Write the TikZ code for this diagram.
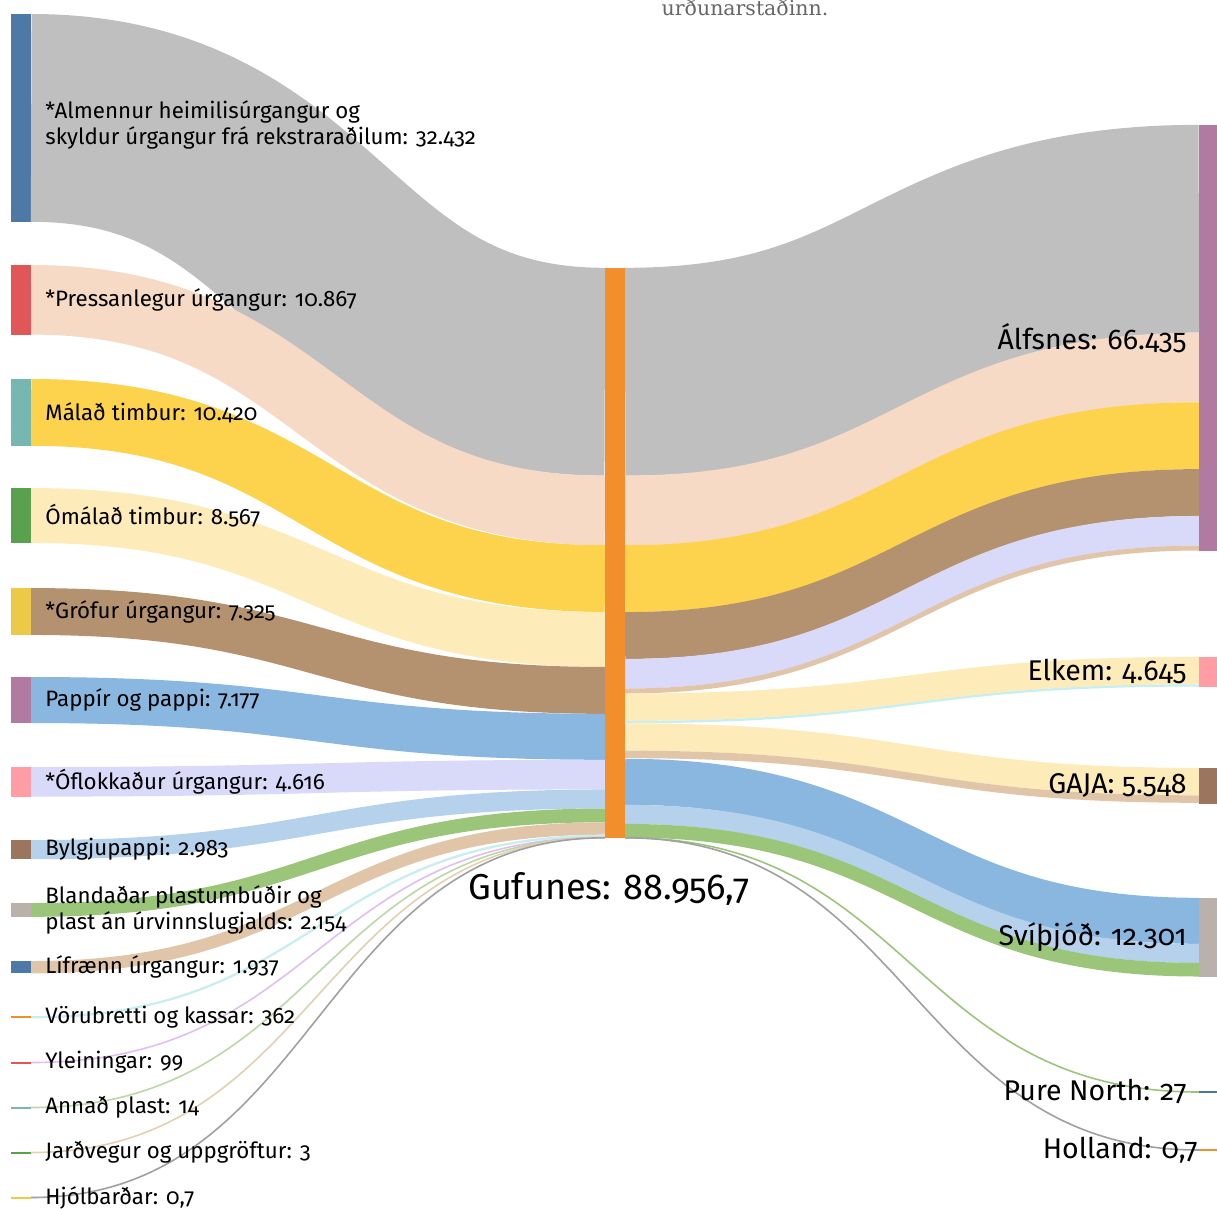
\documentclass[tikz,border=0pt]{standalone}
\usepackage{fontspec}
\setmainfont{Fira Sans}[Numbers=OldStyle]
\newfontfamily\noteserif{DejaVu Serif}
\usetikzlibrary{positioning}

% bar colours
\definecolor{tblue}{HTML}{4E79A7}
\definecolor{tred}{HTML}{E15759}
\definecolor{tteal}{HTML}{76B7B2}
\definecolor{tgreen}{HTML}{59A14F}
\definecolor{tyellow}{HTML}{EDC948}
\definecolor{tpurple}{HTML}{B07AA1}
\definecolor{tpink}{HTML}{FF9DA7}
\definecolor{tbrown}{HTML}{9C755F}
\definecolor{tgrey}{HTML}{BAB0AC}
\definecolor{torange}{HTML}{F28E2B}
% flow colours
\definecolor{lkGrey}{HTML}{BFBFBF}
\definecolor{lkPeach}{HTML}{F6DAC5}
\definecolor{lkGold}{HTML}{FDD24C}
\definecolor{lkCream}{HTML}{FDEBB9}
\definecolor{lkBrown}{HTML}{B5926F}
\definecolor{lkBlue}{HTML}{8AB7E0}
\definecolor{lkLav}{HTML}{D9D9F9}
\definecolor{lkSky}{HTML}{B6D1EC}
\definecolor{lkGreen}{HTML}{9BC67A}
\definecolor{lkTan}{HTML}{E1C5A8}
\definecolor{lkCyan}{HTML}{C9EEF0}
\definecolor{lkViolet}{HTML}{E2BEF2}
\definecolor{lkMint}{HTML}{BBD8A6}
\definecolor{lkSand}{HTML}{E2D0B0}
\definecolor{lkDark}{HTML}{A0A0A0}

\begin{document}
\begin{tikzpicture}[x=1pt, y=-1pt,
    bar/.style={rectangle, inner sep=0pt, minimum width=20pt},
    lbl/.style={font=\fontsize{22.3}{26}\selectfont, align=left, inner sep=0pt},
    big/.style={font=\fontsize{28.5}{32}\selectfont, inner sep=0pt},
    flow/.style={out=0, in=180, distance=287pt}]

    \useasboundingbox (0,0) rectangle (1217,1208);

    \node[font=\noteserif\fontsize{20.5}{24}\selectfont, text=black!60, anchor=base] (note) at (745,15) {urðunarstaðinn.};

    % sources
    \node[bar, fill=tblue, minimum height=207.8pt] (almennur) at (21,117.9) {};
    \node[bar, fill=tred, minimum height=69.6pt] (pressan) at (21,299.8) {};
    \node[bar, fill=tteal, minimum height=66.8pt] (malad) at (21,412.4) {};
    \node[bar, fill=tgreen, minimum height=54.9pt] (omalad) at (21,515.5) {};
    \node[bar, fill=tyellow, minimum height=46.9pt] (grofur) at (21,611.5) {};
    \node[bar, fill=tpurple, minimum height=46pt] (pappir) at (21,700) {};
    \node[bar, fill=tpink, minimum height=29.6pt] (oflokk) at (21,781.8) {};
    \node[bar, fill=tbrown, minimum height=19.1pt] (bylgju) at (21,849.6) {};
    \node[bar, fill=tgrey, minimum height=13.8pt] (blandad) at (21,909.9) {};
    \node[bar, fill=tblue, minimum height=12.4pt] (lifraenn) at (21,967.2) {};
    \node[bar, fill=torange, minimum height=2.3pt] (vorubr) at (21,1017.2) {};
    \node[bar, fill=tred, minimum height=2pt] (ylein) at (21,1062.5) {};
    \node[bar, fill=tteal, minimum height=2pt] (annad) at (21,1107.5) {};
    \node[bar, fill=tgreen, minimum height=2pt] (jardv) at (21,1152.5) {};
    \node[bar, fill=tyellow, minimum height=2pt] (hjolb) at (21,1197.5) {};

    % hub
    \node[bar, fill=torange, minimum height=570pt] (gufunes) at (615,553) {};

    % targets
    \node[bar, fill=tpurple, minimum height=425.7pt] (alfsnes) at (1209,337.9) {};
    \node[bar, fill=tpink, minimum height=29.8pt] (elkem) at (1209,671.9) {};
    \node[bar, fill=tbrown, minimum height=35.5pt] (gaja) at (1209,785.8) {};
    \node[bar, fill=tgrey, minimum height=78.8pt] (svithjod) at (1209,937.4) {};
    \node[bar, fill=tblue, minimum height=2pt] (purenorth) at (1209,1092) {};
    \node[bar, fill=torange, minimum height=2pt] (holland) at (1209,1150) {};

    % flows into Gufunes
    \draw[flow, lkGrey, line width=207.8pt] (almennur.east) to ([yshift=-103.9pt]gufunes.north west);
    \draw[flow, lkPeach, line width=69.6pt] (pressan.east) to ([yshift=-242.6pt]gufunes.north west);
    \draw[flow, lkGold, line width=66.8pt] (malad.east) to ([yshift=-310.8pt]gufunes.north west);
    \draw[flow, lkCream, line width=54.9pt] (omalad.east) to ([yshift=-371.7pt]gufunes.north west);
    \draw[flow, lkBrown, line width=46.9pt] (grofur.east) to ([yshift=-422.6pt]gufunes.north west);
    \draw[flow, lkBlue, line width=46pt] (pappir.east) to ([yshift=-469pt]gufunes.north west);
    \draw[flow, lkLav, line width=29.6pt] (oflokk.east) to ([yshift=-506.8pt]gufunes.north west);
    \draw[flow, lkSky, line width=19.1pt] (bylgju.east) to ([yshift=-531.2pt]gufunes.north west);
    \draw[flow, lkGreen, line width=13.8pt] (blandad.east) to ([yshift=-547.6pt]gufunes.north west);
    \draw[flow, lkTan, line width=12.4pt] (lifraenn.east) to ([yshift=-560.7pt]gufunes.north west);
    \draw[flow, lkCyan, line width=2.3pt] (vorubr.east) to ([yshift=-568pt]gufunes.north west);
    \draw[flow, lkViolet, line width=1.6pt] (ylein.east) to ([yshift=-569.5pt]gufunes.north west);
    \draw[flow, lkMint, line width=1.6pt] (annad.east) to ([yshift=-569.8pt]gufunes.north west);
    \draw[flow, lkSand, line width=1.6pt] (jardv.east) to ([yshift=-569.9pt]gufunes.north west);
    \draw[flow, lkDark, line width=1.6pt] (hjolb.east) to ([yshift=-570pt]gufunes.north west);

    % flows out of Gufunes
    \draw[flow, lkGrey, line width=207.8pt] ([yshift=-103.9pt]gufunes.north east) to ([yshift=-103.9pt]alfsnes.north west);
    \draw[flow, lkPeach, line width=69.6pt] ([yshift=-242.6pt]gufunes.north east) to ([yshift=-242.6pt]alfsnes.north west);
    \draw[flow, lkGold, line width=66.8pt] ([yshift=-310.8pt]gufunes.north east) to ([yshift=-310.8pt]alfsnes.north west);
    \draw[flow, lkBrown, line width=46.9pt] ([yshift=-367.7pt]gufunes.north east) to ([yshift=-367.7pt]alfsnes.north west);
    \draw[flow, lkLav, line width=29.6pt] ([yshift=-405.9pt]gufunes.north east) to ([yshift=-405.9pt]alfsnes.north west);
    \draw[flow, lkTan, line width=5pt] ([yshift=-423.2pt]gufunes.north east) to ([yshift=-423.2pt]alfsnes.north west);
    \draw[flow, lkCream, line width=27.4pt] ([yshift=-439.4pt]gufunes.north east) to ([yshift=-13.7pt]elkem.north west);
    \draw[flow, lkCyan, line width=2.3pt] ([yshift=-454.3pt]gufunes.north east) to ([yshift=-28.6pt]elkem.north west);
    \draw[flow, lkCream, line width=27.4pt] ([yshift=-469.2pt]gufunes.north east) to ([yshift=-13.7pt]gaja.north west);
    \draw[flow, lkTan, line width=7.5pt] ([yshift=-486.6pt]gufunes.north east) to ([yshift=-31.2pt]gaja.north west);
    \draw[flow, lkBlue, line width=46pt] ([yshift=-514pt]gufunes.north east) to ([yshift=-23pt]svithjod.north west);
    \draw[flow, lkSky, line width=19.1pt] ([yshift=-546.6pt]gufunes.north east) to ([yshift=-55.6pt]svithjod.north west);
    \draw[flow, lkGreen, line width=13.6pt] ([yshift=-562.9pt]gufunes.north east) to ([yshift=-71.9pt]svithjod.north west);
    \draw[flow, lkGreen, line width=1.6pt] ([yshift=-569.9pt]gufunes.north east) to (purenorth.west);
    \draw[flow, lkDark, line width=1.6pt] ([yshift=-570pt]gufunes.north east) to (holland.west);

    % labels
    \node[lbl, right=14pt of almennur, yshift=-7pt] (lAlmennur) {*Almennur heimilisúrgangur og\\skyldur úrgangur frá rekstraraðilum: 32.432};
    \node[lbl, right=14pt of pressan] (lPressan) {*Pressanlegur úrgangur: 10.867};
    \node[lbl, right=14pt of malad] (lMalad) {Málað timbur: 10.420};
    \node[lbl, right=14pt of omalad] (lOmalad) {Ómálað timbur: 8.567};
    \node[lbl, right=14pt of grofur] (lGrofur) {*Grófur úrgangur: 7.325};
    \node[lbl, right=14pt of pappir] (lPappir) {Pappír og pappi: 7.177};
    \node[lbl, right=14pt of oflokk] (lOflokk) {*Óflokkaður úrgangur: 4.616};
    \node[lbl, right=14pt of bylgju] (lBylgju) {Bylgjupappi: 2.983};
    \node[lbl, right=14pt of blandad] (lBlandad) {Blandaðar plastumbúðir og\\plast án úrvinnslugjalds: 2.154};
    \node[lbl, right=14pt of lifraenn] (lLifraenn) {Lífrænn úrgangur: 1.937};
    \node[lbl, right=14pt of vorubr] (lVorubr) {Vörubretti og kassar: 362};
    \node[lbl, right=14pt of ylein] (lYlein) {Yleiningar: 99};
    \node[lbl, right=14pt of annad] (lAnnad) {Annað plast: 14};
    \node[lbl, right=14pt of jardv] (lJardv) {Jarðvegur og uppgröftur: 3};
    \node[lbl, right=14pt of hjolb] (lHjolb) {Hjólbarðar: 0,7};

    \node[font=\fontsize{36}{40}\selectfont, inner sep=0pt, below=34pt of gufunes, xshift=-6pt] (lGufunes) {Gufunes: 88.956,7};

    \node[big, left=12pt of alfsnes] (lAlfsnes) {Álfsnes: 66.435};
    \node[big, left=12pt of elkem] (lElkem) {Elkem: 4.645};
    \node[big, left=12pt of gaja] (lGaja) {GAJA: 5.548};
    \node[big, left=12pt of svithjod] (lSvithjod) {Svíþjóð: 12.301};
    \node[big, left=12pt of purenorth] (lPurenorth) {Pure North: 27};
    \node[big, left=1pt of holland] (lHolland) {Holland: 0,7};
\end{tikzpicture}
\end{document}
